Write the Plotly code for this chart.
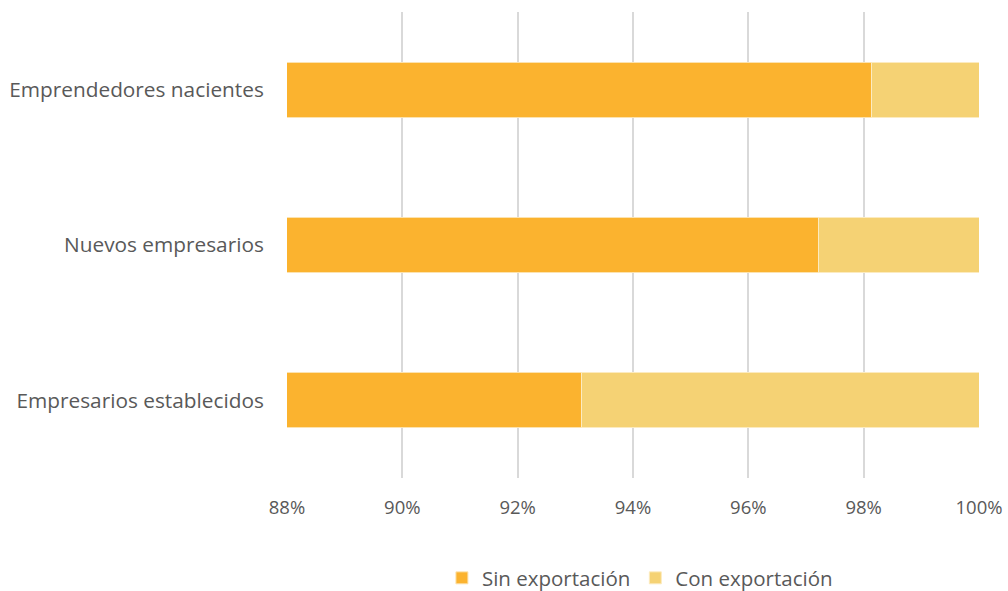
import plotly.graph_objects as go

categories = ["Emprendedores nacientes", "Nuevos empresarios", "Empresarios establecidos"]
sin_exportacion = [98.13, 97.22, 93.10]
con_exportacion = [1.87, 2.78, 6.90]
tick_vals = [88, 90, 92, 94, 96, 98, 100]
tick_text = ["88%", "90%", "92%", "94%", "96%", "98%", "100%"]

FONT = "Open Sans, Liberation Sans, sans-serif"
TXT = "#595959"

fig = go.Figure()
fig.add_trace(go.Bar(
    y=categories, x=sin_exportacion, orientation="h", name="Sin exportación",
    marker=dict(color="#FBB32F", line=dict(color="#FCE3B0", width=1)),
))
fig.add_trace(go.Bar(
    y=categories, x=con_exportacion, orientation="h", name="Con exportación",
    marker=dict(color="#F5D274", line=dict(color="#FCEBC0", width=1)),
))

fig.update_layout(
    barmode="stack",
    bargap=0.645,
    width=1008, height=591,
    paper_bgcolor="white", plot_bgcolor="white",
    margin=dict(l=287, r=29, t=12, b=113, autoexpand=False),
    font=dict(family=FONT, size=20, color=TXT),
    xaxis=dict(
        range=[88, 100], tickvals=tick_vals, ticktext=tick_text,
        showgrid=True, gridcolor="#D9D9D9", gridwidth=1.5,
        zeroline=False, showline=False,
        ticks="outside", ticklen=13, tickcolor="rgba(0,0,0,0)",
        tickfont=dict(family=FONT, size=18.5, color=TXT),
    ),
    yaxis=dict(
        autorange="reversed", showgrid=False, zeroline=False, showline=False,
        ticks="outside", ticklen=18, tickcolor="rgba(0,0,0,0)",
        tickfont=dict(family=FONT, size=20.8, color=TXT),
    ),
    legend=dict(
        orientation="h", x=0.51, xanchor="center", y=-0.2146, yanchor="middle",
        font=dict(family=FONT, size=20.5, color=TXT), traceorder="normal",
    ),
)

fig.write_html(
    "out.html",
    config={"displayModeBar": False},
    post_script="document.body.style.margin='0';document.body.style.overflow='hidden';",
)
